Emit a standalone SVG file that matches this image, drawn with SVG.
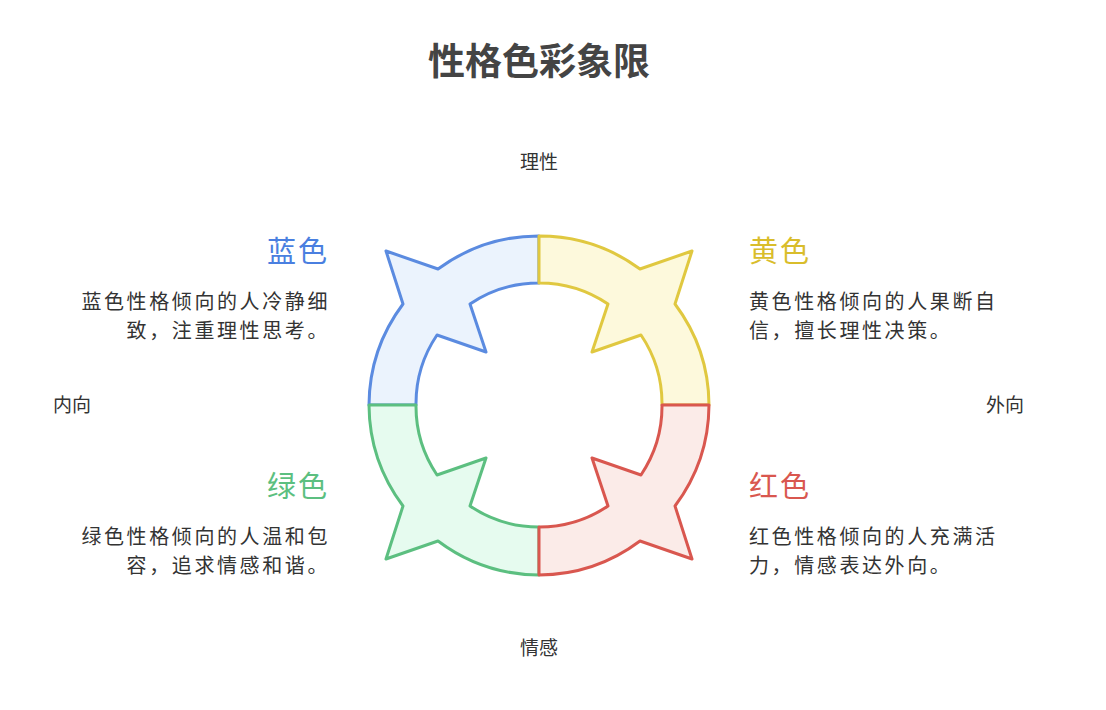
<svg xmlns="http://www.w3.org/2000/svg" width="1106" height="710" viewBox="0 0 1106 710">
<style>
text{font-family:"Noto Sans CJK SC","Noto Sans",sans-serif;fill:#333}
.t{font-size:37px;font-weight:bold;text-anchor:middle;fill:#444}
.ax{font-size:19px;text-anchor:middle}
.h{font-size:29px;letter-spacing:2px}
.d{font-size:20px;letter-spacing:2.6px}
.r{text-anchor:end}
path{stroke-width:3;stroke-linejoin:round}
</style>
<rect width="1106" height="710" fill="#fff"/>
<text class="t" x="539" y="75">性格色彩象限</text>
<text class="ax" x="539" y="169">理性</text>
<text class="ax" x="539" y="655">情感</text>
<text class="ax" x="72" y="412">内向</text>
<text class="ax" x="1005" y="412">外向</text>
<g id="connectors">
<g id="blue-arrow"><path fill="#ebf3fd" stroke="#5b8be0" d="M369,405 A170,170 0 0 1 403,304 L386,251 L438,269 A170,170 0 0 1 539,236 L539,283 A123,123 0 0 0 470,304 L486,352 L437,335 A123,123 0 0 0 416,405 Z"/></g>
<g id="yellow-arrow"><path fill="#fdf9dc" stroke="#e0c840" d="M709,405 A170,170 0 0 0 675,304 L692,251 L640,269 A170,170 0 0 0 539,236 L539,283 A123,123 0 0 1 608,304 L592,352 L641,335 A123,123 0 0 1 662,405 Z"/></g>
<g id="green-arrow"><path fill="#e6fbef" stroke="#5cbf80" d="M369,405 A170,170 0 0 0 403,506 L386,559 L438,541 A170,170 0 0 0 539,575 L539,527 A123,123 0 0 1 470,506 L486,458 L437,475 A123,123 0 0 1 416,405 Z"/></g>
<g id="red-arrow"><path fill="#fbebe8" stroke="#d9574f" d="M709,405 A170,170 0 0 1 675,506 L692,559 L640,541 A170,170 0 0 1 539,575 L539,527 A123,123 0 0 0 608,506 L592,458 L641,475 A123,123 0 0 0 662,405 Z"/></g>
</g>
<g id="blue"><text class="h r" x="329" y="262" style="fill:#4a7fe0">蓝色</text>
<text class="d r" x="330" y="309">蓝色性格倾向的人冷静细</text><text class="d r" x="330" y="338">致，注重理性思考。</text></g>
<g id="yellow"><text class="h" x="749" y="262" style="fill:#d9bd2b">黄色</text>
<text class="d" x="749" y="309">黄色性格倾向的人果断自</text><text class="d" x="749" y="338">信，擅长理性决策。</text></g>
<g id="green"><text class="h r" x="329" y="497" style="fill:#5cbf80">绿色</text>
<text class="d r" x="330" y="544">绿色性格倾向的人温和包</text><text class="d r" x="330" y="573">容，追求情感和谐。</text></g>
<g id="red"><text class="h" x="749" y="497" style="fill:#d9574f">红色</text>
<text class="d" x="749" y="544">红色性格倾向的人充满活</text><text class="d" x="749" y="573">力，情感表达外向。</text></g>
</svg>
